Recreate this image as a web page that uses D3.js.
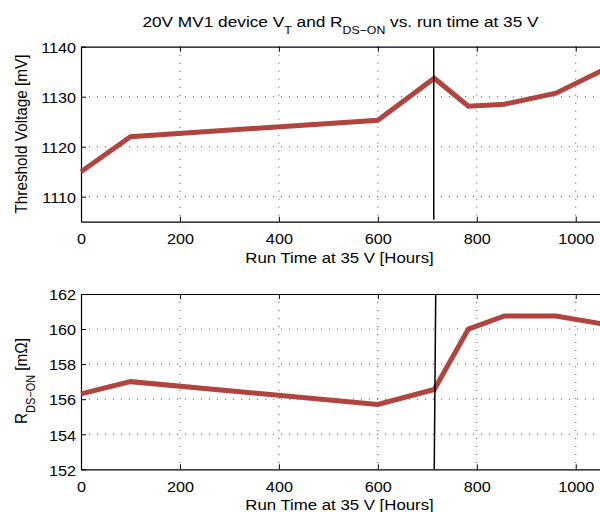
<!DOCTYPE html>
<html>
<head>
<meta charset="utf-8">
<script src="https://cdn.jsdelivr.net/npm/d3@7"></script>
<style>
  body { margin: 0; background: #fff; }
  svg { display: block; font-family: "Liberation Sans", Arial, Helvetica, sans-serif; }
</style>
</head>
<body>
<div id="chart"></div>
<script>
// run time (hours) shared by both panels
var runHours = [0, 100, 600, 714, 783, 856, 960, 1052];
// threshold voltage [mV]
var vtValues = [1115.0, 1122.0, 1125.3, 1133.7, 1128.1, 1128.5, 1130.7, 1135.2];
// on resistance [mOhm]
var rdsValues = [156.3, 157.0, 155.7, 156.55, 160.0, 160.75, 160.75, 160.3];

var xTicks = [0, 200, 400, 600, 800, 1000];
var vtTicks = [1110, 1120, 1130, 1140];
var rdsTicks = [152, 154, 156, 158, 160, 162];

// the black marker lines [hours, value]
var vtMarker = [[713, 1139.7], [713, 1105.4]];
var rdsMarker = [[717, 162], [714, 152]];

var width = 600, height = 512;
// the picture is a little wider than tall in its lettering
var sx = 1.12;

var svg = d3.select("#chart").append("svg")
    .attr("width", width)
    .attr("height", height);

// plot area runs past the right edge of the picture
var x = d3.scaleLinear().domain([0, 1100]).range([81, 625.2]);

var lineColor = "#b0443f";

function panel(yDomain, yRange, values, ticks, marker) {
  var y = d3.scaleLinear().domain(yDomain).range(yRange);
  var g = svg.append("g");
  var top = yRange[1], bottom = yRange[0];

  // dotted grid
  g.selectAll(".gx").data(xTicks.slice(1))
    .enter().append("line")
      .attr("x1", function(d) { return x(d); })
      .attr("x2", function(d) { return x(d); })
      .attr("y1", top).attr("y2", bottom)
      .attr("stroke", "#555").attr("stroke-width", 1)
      .attr("stroke-dasharray", "1,7");
  g.selectAll(".gy").data(ticks.filter(function(d) { return d > yDomain[0] && d < yDomain[1]; }))
    .enter().append("line")
      .attr("x1", x(0)).attr("x2", width)
      .attr("y1", function(d) { return y(d); })
      .attr("y2", function(d) { return y(d); })
      .attr("stroke", "#555").attr("stroke-width", 1)
      .attr("stroke-dasharray", "1,7");

  // axes with inward ticks
  g.append("g")
      .attr("transform", "translate(0," + bottom + ")")
      .call(d3.axisBottom(x).tickValues(xTicks).tickFormat(d3.format("d"))
        .tickSizeInner(-5).tickSizeOuter(0).tickPadding(12))
      .call(styleAxis);
  g.append("g")
      .attr("transform", "translate(0," + top + ")")
      .call(d3.axisTop(x).tickValues(xTicks).tickSizeInner(-5).tickSizeOuter(0).tickFormat(""))
      .call(styleAxis);
  g.append("g")
      .attr("transform", "translate(" + x(0) + ",0)")
      .call(d3.axisLeft(y).tickValues(ticks).tickFormat(d3.format("d"))
        .tickSizeInner(-5).tickSizeOuter(0).tickPadding(5))
      .call(styleAxis)
      .selectAll(".tick text").attr("dy", "0.4em");

  // data line
  var line = d3.line()
      .x(function(d, i) { return x(runHours[i]); })
      .y(function(d) { return y(d); });
  g.append("path")
      .datum(values)
      .attr("d", line)
      .attr("fill", "none")
      .attr("stroke", lineColor)
      .attr("stroke-width", 5)
      .attr("stroke-linejoin", "miter");

  // marker line
  g.append("path")
      .datum(marker)
      .attr("d", d3.line().x(function(d) { return x(d[0]); }).y(function(d) { return y(d[1]); }))
      .attr("stroke", "#000")
      .attr("stroke-width", 1.5);

  return y;
}

function styleAxis(sel) {
  sel.select(".domain").attr("stroke", "#000").attr("stroke-width", 1.2);
  sel.selectAll(".tick line").attr("stroke", "#000");
  sel.selectAll(".tick text")
      .attr("font-size", 14.5)
      .attr("font-family", "'Liberation Sans', Arial, sans-serif")
      .attr("fill", "#000")
      .attr("x", function() { return (+d3.select(this).attr("x") || 0) / sx; })
      .attr("transform", "scale(" + sx + ",1)");
}

panel([1105, 1140], [221.7, 46.7], vtValues, vtTicks, vtMarker);
panel([152, 162], [469.3, 294], rdsValues, rdsTicks, rdsMarker);

function placed(px, py, extra) {
  return "translate(" + px + "," + py + ") scale(" + sx + ",1)" + (extra || "");
}

// title
var title = svg.append("text")
    .attr("transform", placed(340.5, 26.5))
    .attr("text-anchor", "middle")
    .attr("font-size", 15.4);
title.append("tspan").text("20V MV1 device V");
title.append("tspan").attr("font-size", 11).attr("dy", 7).text("T");
title.append("tspan").attr("dy", -7).text(" and R");
title.append("tspan").attr("font-size", 11).attr("dy", 7).text("DS\u2212ON");
title.append("tspan").attr("dy", -7).text(" vs. run time at 35 V");

// x labels
svg.append("text")
    .attr("transform", placed(339.5, 262.5))
    .attr("text-anchor", "middle")
    .attr("font-size", 15)
    .text("Run Time at 35 V [Hours]");
svg.append("text")
    .attr("transform", placed(339.5, 509.5))
    .attr("text-anchor", "middle")
    .attr("font-size", 15)
    .text("Run Time at 35 V [Hours]");

// y labels
svg.append("text")
    .attr("transform", placed(27, 134, " rotate(-90)"))
    .attr("text-anchor", "middle")
    .attr("font-size", 15.3)
    .text("Threshold Voltage [mV]");

var yl = svg.append("text")
    .attr("transform", placed(27, 381, " rotate(-90)"))
    .attr("text-anchor", "middle")
    .attr("font-size", 15.3);
yl.append("tspan").text("R");
yl.append("tspan").attr("font-size", 11).attr("dy", 7).text("DS\u2212ON");
yl.append("tspan").attr("dy", -7).text(" [m\u03a9]");
</script>
</body>
</html>
